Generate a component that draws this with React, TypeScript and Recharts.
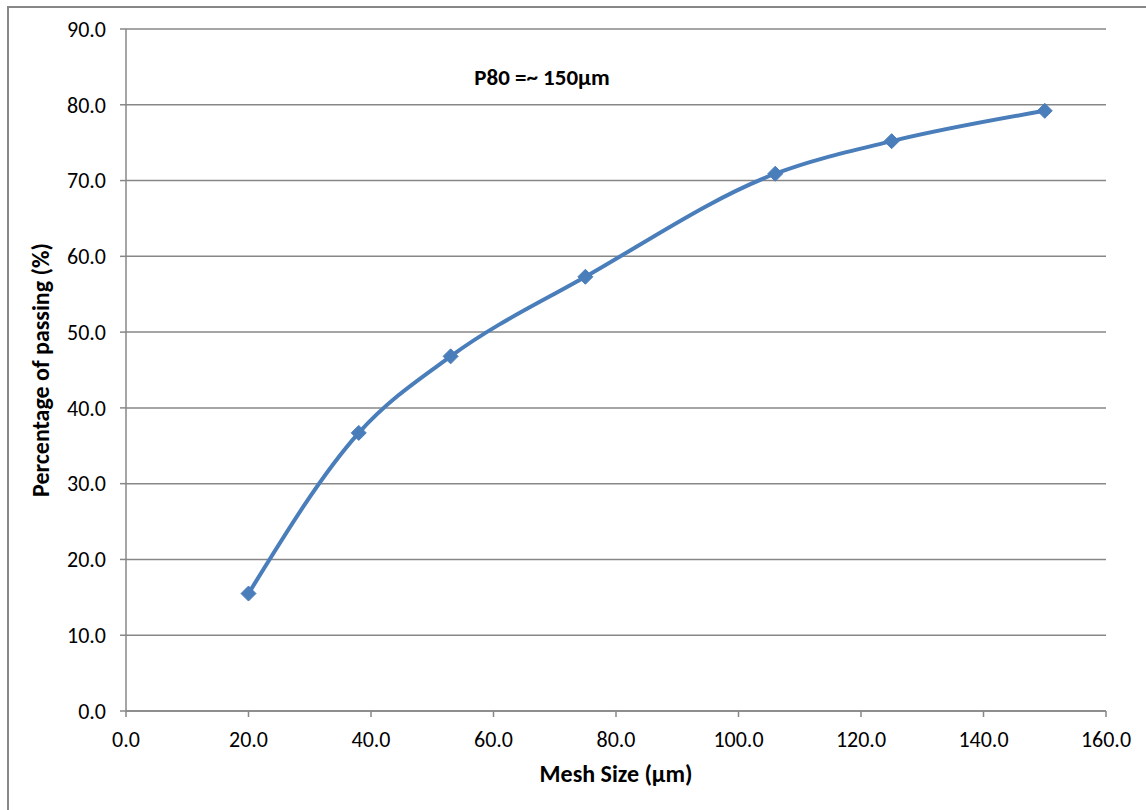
import React from 'react';
import { LineChart, Line, XAxis, YAxis, CartesianGrid, Label } from 'recharts';

const meshSizes = [20, 38, 53, 75, 106, 125, 150];
const passing = [15.5, 36.7, 46.8, 57.3, 70.9, 75.2, 79.2];
const xTicks = [0, 20, 40, 60, 80, 100, 120, 140, 160];
const yTicks = [0, 10, 20, 30, 40, 50, 60, 70, 80, 90];

const data = meshSizes.map((x, i) => ({ x, y: passing[i] }));

const FONT = 'Carlito, Calibri, Lato, sans-serif';
const GRAY = '#878787';
const BLUE = '#4A7EBB';

const Diamond = (props: any) => {
  const { cx, cy } = props;
  if (cx == null || cy == null) return null;
  const r = 7.5;
  return (
    <polygon
      points={`${cx},${cy - r} ${cx + r},${cy} ${cx},${cy + r} ${cx - r},${cy}`}
      fill={BLUE}
      stroke={BLUE}
      strokeWidth={1}
    />
  );
};

const fmt = (v: number) => v.toFixed(1);

export default function App() {
  return (
    <div style={{ position: 'absolute', left: 0, top: 0, width: 1146, height: 810, background: '#fff', overflow: 'hidden' }}>
      <div
        style={{
          position: 'absolute',
          left: 7,
          top: 6,
          width: 1200,
          height: 900,
          borderLeft: `2px solid ${GRAY}`,
          borderTop: `2px solid ${GRAY}`,
          boxSizing: 'border-box',
        }}
      />
      <div style={{ position: 'absolute', left: 0, top: 0 }}>
        <LineChart
          width={1146}
          height={810}
          data={data}
          margin={{ top: 29, right: 40, left: 46, bottom: 59 }}
        >
          <CartesianGrid vertical={false} stroke={GRAY} strokeWidth={1.5} />
          <XAxis
            dataKey="x"
            type="number"
            domain={[0, 160]}
            ticks={xTicks}
            tickFormatter={fmt}
            stroke={GRAY}
            strokeWidth={1.5}
            tickSize={6}
            tickMargin={14}
            height={40}
            tick={{ fill: '#000', fontSize: 22, fontFamily: FONT }}
            interval={0}
          >
            <Label
              content={(p: any) => {
                const vb = p.viewBox || {};
                return (
                  <text
                    x={vb.x + vb.width / 2}
                    y={782}
                    textAnchor="middle"
                    fontFamily={FONT}
                    fontWeight="bold"
                    fontSize={24}
                    fill="#000"
                  >
                    Mesh Size (µm)
                  </text>
                );
              }}
            />
          </XAxis>
          <YAxis
            type="number"
            domain={[0, 90]}
            ticks={yTicks}
            tickFormatter={fmt}
            stroke={GRAY}
            strokeWidth={1.5}
            tickSize={6}
            tickMargin={14}
            width={80}
            tick={{ fill: '#000', fontSize: 22, fontFamily: FONT }}
            interval={0}
          >
            <Label
              content={(p: any) => {
                const vb = p.viewBox || {};
                const cy = vb.y + vb.height / 2;
                return (
                  <text
                    x={49}
                    y={cy}
                    transform={`rotate(-90 49 ${cy})`}
                    textAnchor="middle"
                    fontFamily={FONT}
                    fontWeight="bold"
                    fontSize={24}
                    fill="#000"
                  >
                    Percentage of passing (%)
                  </text>
                );
              }}
            />
          </YAxis>
          <Line
            dataKey="y"
            type="monotone"
            stroke={BLUE}
            strokeWidth={4}
            dot={<Diamond />}
            activeDot={false}
            isAnimationActive={false}
          />
        </LineChart>
      </div>
      <div
        style={{
          position: 'absolute',
          left: 392,
          top: 62,
          width: 300,
          textAlign: 'center',
          fontFamily: FONT,
          fontWeight: 'bold',
          fontSize: 23,
          lineHeight: '30px',
          color: '#000',
        }}
      >
        P80 =~ 150µm
      </div>
    </div>
  );
}
